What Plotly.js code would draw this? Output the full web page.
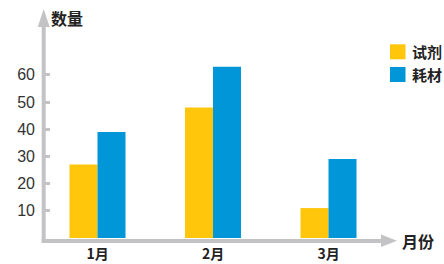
<!DOCTYPE html>
<html>
<head>
<meta charset="utf-8">
<script src="https://cdn.plot.ly/plotly-3.0.1.min.js"></script>
<style>
html,body{margin:0;padding:0;background:#fff;}
#chart{width:444px;height:264px;}
</style>
</head>
<body>
<div id="chart"></div>
<script>
// ---- data ----
const categories = ['1月', '2月', '3月'];
const seriesNames = ['试剂', '耗材'];
const reagent = [27, 48, 11];
const consumables = [39, 63, 29];
const yTickVals = [10, 20, 30, 40, 50, 60];
const yTickText = ['10', '20', '30', '40', '50', '60'];
const yAxisTitle = '数量';
const xAxisTitle = '月份';

// ---- layout geometry ----
const W = 444, H = 264;
const L = 44, R = 47, T = 8, B = 26;
const PW = W - L - R, PH = H - T - B;
const px = v => (v - L) / PW;          // pixel x -> paper
const py = v => (T + PH - v) / PH;     // pixel y -> paper

const colors = ['#ffc60b', '#0096d8'];
const axisColor = '#c3c3c5';
const cjk = '"Noto Sans CJK SC", "Noto Sans", sans-serif';

const traces = [
  {type: 'bar', x: categories, y: reagent, name: seriesNames[0],
   marker: {color: colors[0], line: {width: 0}}, hoverinfo: 'none'},
  {type: 'bar', x: categories, y: consumables, name: seriesNames[1],
   marker: {color: colors[1], line: {width: 0}}, hoverinfo: 'none'}
];

const shapes = [
  // x axis line
  {type: 'line', xref: 'paper', yref: 'paper', x0: px(41.7), x1: px(383), y0: py(241), y1: py(241),
   line: {color: axisColor, width: 4}, layer: 'below'},
  // x arrow head
  {type: 'path', xref: 'paper', yref: 'paper',
   path: `M${px(381)},${py(234.5)} L${px(397)},${py(240.8)} L${px(381)},${py(247)} Z`,
   fillcolor: axisColor, line: {width: 0}, layer: 'below'},
  // y axis line
  {type: 'line', xref: 'paper', yref: 'paper', x0: px(43.7), x1: px(43.7), y0: py(243), y1: py(24),
   line: {color: axisColor, width: 4}, layer: 'below'},
  // y arrow head
  {type: 'path', xref: 'paper', yref: 'paper',
   path: `M${px(37.7)},${py(27)} L${px(43.7)},${py(9)} L${px(49.7)},${py(27)} Z`,
   fillcolor: axisColor, line: {width: 0}, layer: 'below'},
  // legend swatches
  {type: 'rect', xref: 'paper', yref: 'paper', x0: px(390), x1: px(405.5), y0: py(44.3), y1: py(59.3),
   fillcolor: colors[0], line: {width: 0}},
  {type: 'rect', xref: 'paper', yref: 'paper', x0: px(390), x1: px(405.5), y0: py(67), y1: py(82),
   fillcolor: colors[1], line: {width: 0}}
];

const annotations = [
  {text: yAxisTitle, xref: 'paper', yref: 'paper', x: px(49), y: py(18.5), xanchor: 'left', yanchor: 'middle',
   showarrow: false, font: {family: cjk, size: 16, color: '#222', weight: 'bold'}},
  {text: xAxisTitle, xref: 'paper', yref: 'paper', x: px(400.5), y: py(240.5), xanchor: 'left', yanchor: 'middle',
   showarrow: false, font: {family: cjk, size: 16, color: '#222', weight: 'bold'}},
  {text: seriesNames[0], xref: 'paper', yref: 'paper', x: px(409.5), y: py(51.8), xanchor: 'left', yanchor: 'middle',
   showarrow: false, font: {family: cjk, size: 15, color: '#222', weight: 'bold'}},
  {text: seriesNames[1], xref: 'paper', yref: 'paper', x: px(409.5), y: py(74.5), xanchor: 'left', yanchor: 'middle',
   showarrow: false, font: {family: cjk, size: 15, color: '#222', weight: 'bold'}}
];

const pxPerCat = 115.5;
const c0 = 97.5;
const r0 = -(c0 - L) / pxPerCat;
const r1 = r0 + PW / pxPerCat;

const layout = {
  width: W, height: H,
  margin: {l: L, r: R, t: T, b: B, pad: 0},
  paper_bgcolor: '#fff', plot_bgcolor: '#fff',
  showlegend: false,
  barmode: 'group',
  bargap: 1 - 56 / pxPerCat,
  bargroupgap: 0,
  xaxis: {
    type: 'category', range: [r0, r1], fixedrange: true,
    showline: false, showgrid: false, zeroline: false, ticks: '',
    tickfont: {family: cjk, size: 14, color: '#222', weight: 'bold'},
    ticklabelstandoff: 6
  },
  yaxis: {
    range: [0, PH / 2.72], fixedrange: true,
    showline: false, showgrid: false, zeroline: false,
    tickvals: yTickVals, ticktext: yTickText,
    ticks: 'inside', ticklen: 6, tickwidth: 3, tickcolor: axisColor,
    tickfont: {family: '"Liberation Sans", Arial, sans-serif', size: 16, color: '#333'},
    ticklabelstandoff: 8
  },
  shapes: shapes,
  annotations: annotations
};

Plotly.newPlot('chart', traces, layout, {displayModeBar: false, staticPlot: true});
</script>
</body>
</html>
